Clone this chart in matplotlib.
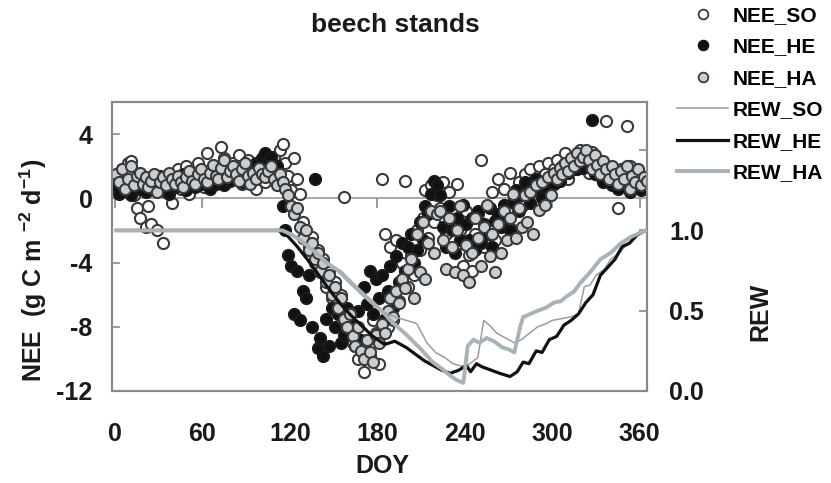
import numpy as np
import matplotlib
matplotlib.use("Agg")
import matplotlib.pyplot as plt
from matplotlib.lines import Line2D

plt.rcParams['font.family'] = ['Liberation Sans', 'DejaVu Sans']
plt.rcParams['font.weight'] = 'bold'
plt.rcParams['axes.unicode_minus'] = False
plt.rcParams['mathtext.fontset'] = 'custom'
plt.rcParams['mathtext.rm'] = 'Liberation Sans:bold'
plt.rcParams['mathtext.bf'] = 'Liberation Sans:bold'
plt.rcParams['mathtext.default'] = 'bf'

# ---------------- data ----------------
doy = np.arange(1, 366, 2)  # every second day of year

nee_ha = [
    1.5, 1.0, 1.8, 0.6, 1.2, 2.0, 0.8, 1.4, 1.6, 0.9, 1.3,
    0.7, 1.1, 1.5, 0.4, 1.0, 1.3, 0.8, 1.6, 1.2, 0.9,
    1.4, 1.0, 0.7, 1.3, 1.7, 1.1, 0.9, 1.5, 1.8, 1.2,
    1.0, 1.6, 2.1, 1.4, 1.2, 1.9, 2.4, 1.3, 1.7, 2.0,
    1.5, 1.1, 1.8, 2.2, 1.4, 0.9, 1.6, 1.2, 1.9, 1.5,
    1.3, 1.7, 2.0, 1.2, 0.8, 1.5, 1.0, 0.6, 0.2, -0.5,
    -1.0, -0.6, -1.8, -2.5, -2.0, -3.2, -2.8, -3.8, -3.4, -4.5,
    -4.0, -5.2, -4.8, -6.0, -5.5, -6.8, -6.2, -7.5, -8.0, -7.2,
    -8.6, -9.2, -8.0, -9.5, -10.0, -8.8, -9.6, -10.2, -8.5, -9.0,
    -7.8, -8.4, -7.0, -6.2, -7.4, -5.8, -6.5, -5.0, -5.6, -4.4,
    -3.8, -6.2, -2.2, -4.6, -1.5, -5.0, -2.8, -0.8, -3.4, -1.0,
    -0.8, -2.6, -4.4, -1.2, -3.0, -4.6, -2.0, -0.5, -4.8, -2.9,
    -5.2, -3.4, -1.2, -2.5, -4.2, -1.8, -0.4, -3.6, -2.2, -4.6,
    -1.6, -3.4, -0.8, -2.6, -1.2, 0.3, -2.5, -0.6, -1.8, 0.2,
    -1.5, 0.4, -2.2, 0.8, -0.7, 1.0, -0.4, 1.3, 0.2, 1.6,
    1.2, 1.9, 1.5, 2.2, 1.7, 2.5, 2.0, 2.8, 2.3, 2.6,
    3.0, 2.4, 1.8, 2.7, 2.1, 1.5, 2.3, 1.8, 1.2, 2.0,
    1.5, 0.9, 1.7, 1.2, 2.0, 0.6, 1.4, 1.0, 1.8, 0.8, 1.3, 1.1,
]

nee_he = [
    0.8, 0.3, 1.2, 0.5, 1.0, 0.2, 0.9, 1.3, 0.6, 1.1, 0.4,
    0.9, 1.2, 0.5, 0.8, 1.4, 0.6, 1.0, 0.3, 1.1, 0.7,
    1.2, 0.8, 1.5, 0.5, 1.0, 1.3, 0.7, 1.1, 0.9, 1.4,
    1.0, 0.6, 1.3, 0.9, 1.6, 1.2, 0.8, 1.5, 1.1, 1.7,
    1.3, 1.9, 1.0, 1.5, 2.0, 1.2, 1.7, 2.2, 1.4, 2.5,
    2.8, 2.2, 2.6, 1.8, 2.0, 1.2, -0.5, -2.0, -3.5, -4.2,
    -7.2, -4.5, -7.6, -5.8, -6.2, -4.8, -8.0, 1.2, -9.3, -8.7,
    -9.8, -7.5, -9.2, -6.8, -8.0, -7.2, -9.0, -8.5, -6.8, -7.8,
    -8.6, -9.2, -7.0, -8.8, -5.5, -6.6, -4.5, -7.2, -5.0, -6.2,
    -4.8, -7.5, -5.8, -4.2, -6.8, -3.6, -5.2, -2.8, -4.5, -3.0,
    -2.2, -4.0, -3.2, -1.5, -2.6, -0.5, -1.0, 0.3, 1.1, 0.8,
    0.2, -1.8, -3.0, -0.5, -2.0, -3.4, -1.2, -2.6, -0.4, -1.6,
    -2.6, -1.2, -3.2, -0.8, -2.8, -1.6, -2.2, -0.6, -3.0, -1.4,
    -1.0, -1.8, -0.4, -1.2, -2.0, -0.2, 0.5, -0.8, 0.2, 1.0,
    0.4, -0.3, 0.8, 1.2, 0.5, 0.0, 1.0, 0.6, 1.4, 0.9,
    1.5, 1.1, 1.8, 2.2, 1.6, 2.0, 2.6, 1.8, 2.3, 1.9,
    2.6, 2.1, 4.9, 1.5, 2.2, 1.7, 1.0, 1.9, 1.3, 0.8,
    1.4, 0.6, 1.1, 1.6, 0.9, 0.4, 1.2, 0.7, 1.0, 0.5, 0.9, 0.6,
]

nee_so = [
    1.2, 0.5, 1.8, 1.0, 2.2, 2.3, 0.2, -0.6, -1.2, 0.8, -1.8,
    -0.5, -1.6, 0.6, -2.0, 1.0, -2.8, 0.4, 1.5, -0.3, 1.0,
    1.8, 0.6, 1.2, 2.0, 0.3, 1.5, 0.9, 2.2, 1.3, 0.7,
    2.8, 1.5, 0.8, 1.9, 1.2, 3.2, 2.5, 1.0, 1.6, 2.2,
    1.4, 2.7, 0.9, 1.8, 2.4, 1.1, 1.6, 0.6, 2.0, 1.3,
    1.0, 2.3, 1.6, 2.6, 1.8, 3.0, 3.4, 2.2, 1.4, 0.5,
    2.5, 1.2, 0.3, -1.5, -2.2, -3.0, -2.4, -4.0, -3.2, -4.6,
    -3.8, -5.5, -4.6, -6.2, -5.2, -7.0, -6.0, 0.1, -7.8, -8.6,
    -9.0, -8.2, -10.0, -9.4, -10.8, -8.8, -9.8, -7.6, -8.4, -10.3,
    1.2, -2.2, -8.0, -3.0, -7.6, -2.6, -6.4, -4.0, 1.1, -5.5,
    -3.5, -4.8, -2.0, -3.2, -1.2, 0.5, -2.5, 0.8, -1.5, 0.2,
    -0.6, 1.0, -2.2, 0.4, -1.5, -3.0, 0.9, -2.0, -4.2, -0.8,
    -3.5, -4.5, -2.2, -1.0, 2.4, -3.0, -0.5, -1.8, 0.4, -2.6,
    1.2, -1.5, 0.6, -0.8, 1.6, -2.0, 0.2, 1.0, -0.5, 1.5,
    0.8, 1.8, -0.2, 1.2, 2.0, 0.6, 1.5, 2.2, 1.0, 1.8,
    2.4, 1.5, 2.0, 2.8, 1.2, 2.2, 1.8, 2.6, 3.0, 2.0,
    2.5, 1.6, 2.9, 1.9, 2.2, 1.4, 2.0, 4.8, 1.0, 1.7,
    1.2, -0.6, 1.8, 0.9, 4.5, 2.0, 1.5, 1.0, 1.6, 0.8, 1.3, 1.0,
]

rew_so_doy = [1, 110, 120, 130, 140, 150, 160, 168, 175, 182, 190, 196, 200, 207,
              214, 220, 226, 232, 240, 245, 249, 253, 258, 262, 268, 274, 279, 283,
              290, 296, 300, 306, 312, 318, 322, 326, 330, 336, 340, 346, 350, 356, 364]
rew_so = [1.0, 1.0, 0.98, 0.92, 0.85, 0.77, 0.68, 0.61, 0.55, 0.50, 0.47, 0.45, 0.44, 0.42,
          0.30, 0.24, 0.21, 0.17, 0.15, 0.18, 0.21, 0.44, 0.40, 0.36, 0.33, 0.30, 0.32, 0.35,
          0.40, 0.42, 0.44, 0.45, 0.46, 0.48, 0.65, 0.66, 0.72, 0.76, 0.82, 0.86, 0.90, 0.96, 1.0]

rew_he_doy = [1, 112, 118, 125, 132, 140, 148, 155, 162, 170, 177, 185, 192, 200, 206,
              212, 218, 224, 230, 236, 241, 244, 248, 252, 258, 264, 271, 276, 280, 284,
              289, 293, 298, 303, 308, 313, 318, 323, 328, 333, 338, 343, 348, 353, 358, 364]
rew_he = [1.0, 1.0, 0.97, 0.90, 0.82, 0.72, 0.62, 0.54, 0.47, 0.40, 0.34, 0.29, 0.31, 0.27, 0.23,
          0.19, 0.16, 0.13, 0.11, 0.13, 0.16, 0.12, 0.17, 0.15, 0.13, 0.11, 0.09, 0.12, 0.18, 0.17,
          0.25, 0.24, 0.32, 0.34, 0.41, 0.44, 0.48, 0.55, 0.60, 0.72, 0.77, 0.82, 0.90, 0.92, 0.97, 1.0]

rew_ha_doy = [1, 115, 122, 130, 138, 145, 150, 155, 165, 172, 177, 184, 190, 200, 210,
              218, 224, 228, 234, 239, 242, 246, 250, 255, 260, 266, 270, 274, 278, 280,
              285, 290, 296, 301, 306, 310, 315, 319, 326, 333, 340, 347, 354, 364]
rew_ha = [1.0, 1.0, 0.97, 0.92, 0.86, 0.80, 0.77, 0.74, 0.65, 0.59, 0.55, 0.49, 0.43, 0.35, 0.26,
          0.18, 0.14, 0.11, 0.07, 0.05, 0.28, 0.32, 0.30, 0.33, 0.31, 0.27, 0.26, 0.24, 0.40, 0.46,
          0.48, 0.50, 0.52, 0.55, 0.56, 0.59, 0.62, 0.67, 0.74, 0.82, 0.86, 0.92, 0.96, 1.0]

x_ticks = [0, 60, 120, 180, 240, 300, 360]
y_ticks = [4, 0, -4, -8, -12]
rew_ticks = [0.0, 0.5, 1.0, 1.5]
rew_ticklabels = ['0.0', '0.5', '1.0', '']

# ---------------- figure ----------------
W, H = 831, 483
fig = plt.figure(figsize=(W / 100, H / 100), dpi=100)
ax = fig.add_axes([112 / W, 1 - 391 / H, (647 - 112) / W, (391 - 102) / H])

spine_c = '#8a8a8a'
edge_c = '#3a3a3a'
txt_c = '#1a1a1a'

ax.axhline(0, color='#9a9a9a', lw=1.2, zorder=1)
ax.plot(x_ticks, [0] * len(x_ticks), ls='', marker=3, ms=7, mew=1.2, color=spine_c, zorder=1)

ms_s = 64
ax.scatter(doy, nee_so, s=ms_s, facecolor='white', edgecolor=edge_c, linewidth=1.5, zorder=2)
ax.scatter(doy, nee_he, s=ms_s, facecolor='#111111', edgecolor='#1a1a1a', linewidth=1.5, zorder=3)
ax.scatter(doy, nee_ha, s=ms_s, facecolor='#c9ced3', edgecolor=edge_c, linewidth=1.5, zorder=4)

ax.set_xlim(-2, 365)
ax.set_ylim(-12, 6)
ax.set_xticks(x_ticks)
ax.set_yticks(y_ticks)
ax.tick_params(axis='x', length=0, pad=22, labelsize=18, colors=txt_c)
ax.tick_params(axis='y', direction='in', length=6, width=1.2, color=spine_c, pad=14,
               labelsize=18, labelcolor=txt_c)
for sp in ax.spines.values():
    sp.set_color(spine_c)
    sp.set_linewidth(1.5)

ax2 = ax.twinx()
ax2.plot(rew_so_doy, rew_so, color='#9c9c9c', lw=1.1, zorder=5)
ax2.plot(rew_he_doy, rew_he, color='#111111', lw=2.3, zorder=6)
ax2.plot(rew_ha_doy, rew_ha, color='#a9b1b9', lw=2.8, zorder=7)
ax2.set_ylim(0, 1.8)
ax2.set_yticks(rew_ticks)
ax2.set_yticklabels(rew_ticklabels)
ax2.tick_params(axis='y', direction='in', length=6, width=1.2, color=spine_c, pad=16,
                labelsize=18, labelcolor=txt_c)
for sp in ax2.spines.values():
    sp.set_color(spine_c)
    sp.set_linewidth(1.5)

fig.text(33 / W, 1 - 270 / H, r'NEE  (g C m $^{-2}$ d$^{-1}$)', rotation=90,
         ha='center', va='center', fontsize=18, fontweight='bold', color=txt_c)
fig.text(760 / W, 1 - 312 / H, 'REW', rotation=90, ha='center', va='center',
         fontsize=18, fontweight='bold', color=txt_c)
fig.text(382 / W, 1 - 466 / H, 'DOY', ha='center', va='center',
         fontsize=18, fontweight='bold', color=txt_c)
fig.text(395 / W, 1 - 25 / H, 'beech stands', ha='center', va='center',
         fontsize=19, fontweight='bold', color=txt_c)

handles = [
    Line2D([], [], ls='', marker='o', ms=7, mfc='white', mec=edge_c, mew=1.3),
    Line2D([], [], ls='', marker='o', ms=7, mfc='#111111', mec='#111111', mew=1.3),
    Line2D([], [], ls='', marker='o', ms=7, mfc='#c9ced3', mec=edge_c, mew=1.3),
    Line2D([], [], color='#9c9c9c', lw=1.1),
    Line2D([], [], color='#111111', lw=2.3),
    Line2D([], [], color='#a9b1b9', lw=2.8),
]
labels = ['NEE_SO', 'NEE_HE', 'NEE_HA', 'REW_SO', 'REW_HE', 'REW_HA']
fig.legend(handles, labels, loc='upper left', bbox_to_anchor=(677 / W, 0.988),
           frameon=False, handlelength=2.45, handletextpad=0.2, labelspacing=0.6,
           borderpad=0, borderaxespad=0, prop={'weight': 'bold', 'size': 15})

fig.savefig('out.png', dpi=100)
